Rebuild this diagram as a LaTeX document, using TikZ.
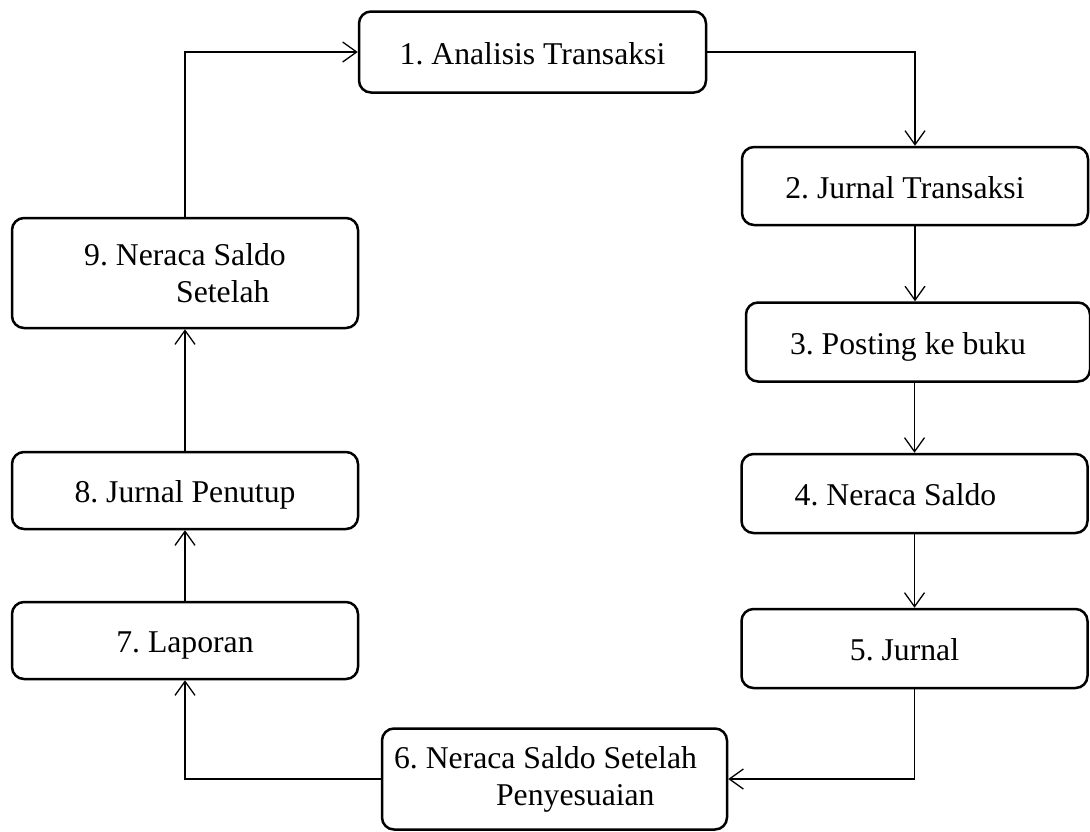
\documentclass[tikz,border=0pt]{standalone}
\usepackage{fontspec}
\setmainfont{Liberation Serif}
\usetikzlibrary{arrows.meta}
\frenchspacing
\tikzset{
  stepbox/.style={draw=black, line width=2.5pt, rounded corners=12pt, inner sep=0pt,
    font=\fontsize{31.7pt}{37pt}\selectfont\frenchspacing},
  oneline/.style={text height=28pt, text depth=4pt},
  conn/.style={draw=black, line width=1.3pt, -{Straight Barb[length=14pt,width=20pt,line width=1.3pt]}}
}
\begin{document}
\begin{tikzpicture}[x=1pt,y=-1pt]
\useasboundingbox (0,0) rectangle (1090,831);
\node[stepbox, oneline, minimum width=347pt, minimum height=81pt] (n1) at (532.5,52) {1. Analisis Transaksi};
\node[stepbox, oneline, minimum width=346pt, minimum height=78pt] (n2) at (915,186) {2. Jurnal Transaksi\kern20pt};
\node[stepbox, oneline, minimum width=344pt, minimum height=79pt] (n3) at (918,342) {3. Posting ke buku\kern20pt};
\node[stepbox, oneline, minimum width=346pt, minimum height=79pt] (n4) at (914.5,493.5) {4. Neraca Saldo\kern38pt};
\node[stepbox, oneline, minimum width=346pt, minimum height=79pt] (n5) at (914.5,648.5) {5. Jurnal\kern20pt};
\node[stepbox, align=left, minimum width=345pt, minimum height=101pt] (n6) at (554.5,779) {6. Neraca Saldo Setelah\kern18pt\\\hspace*{102pt}Penyesuaian};
\node[stepbox, oneline, minimum width=346pt, minimum height=77pt] (n7) at (185,640.5) {7. Laporan};
\node[stepbox, oneline, minimum width=346pt, minimum height=77pt] (n8) at (185,490.5) {8. Jurnal Penutup};
\node[stepbox, align=left, minimum width=346pt, minimum height=110pt] (n9) at (185,273) {9. Neraca Saldo\\\hspace*{92pt}Setelah};
\draw[conn] (n1.east) -| (n2.north);
\draw[conn] (n2.south) -- (n2.south |- n3.north);
\draw[conn] (n4.north |- n3.south) -- (n4.north);
\draw[conn] (n4.south) -- (n5.north);
\draw[conn] (n5.south) |- (n6.east);
\draw[conn] (n6.west) -| (n7.south);
\draw[conn] (n7.north) -- (n8.south);
\draw[conn] (n8.north) -- (n9.south);
\draw[conn] (n9.north) |- (n1.west);
\end{tikzpicture}
\end{document}
